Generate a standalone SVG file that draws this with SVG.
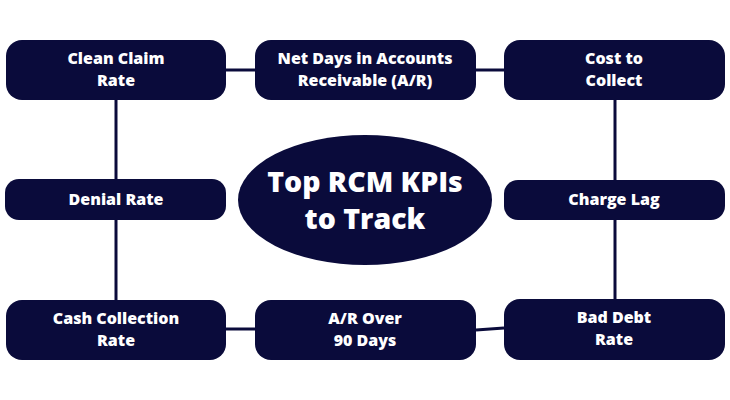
<svg xmlns="http://www.w3.org/2000/svg" width="730" height="400" viewBox="0 0 730 400">
<style>
.node{fill:#0a0b3b;}
.t{fill:#ffffff;font-family:"Open Sans","Liberation Sans",sans-serif;font-weight:800;font-size:16px;text-anchor:middle;}
.tc{fill:#ffffff;font-family:"Open Sans","Liberation Sans",sans-serif;font-weight:800;font-size:28.5px;text-anchor:middle;}
.c{stroke:#0a0b3b;stroke-width:3;fill:none;}
</style>
<rect width="730" height="400" fill="#ffffff"/>
<g id="connectors">
<line class="c" x1="226" y1="70" x2="255" y2="70"/>
<line class="c" x1="476" y1="70" x2="504" y2="70"/>
<line class="c" x1="116" y1="100" x2="116" y2="179"/>
<line class="c" x1="116" y1="220" x2="116" y2="300"/>
<line class="c" x1="615" y1="100" x2="615" y2="180"/>
<line class="c" x1="615" y1="220" x2="615" y2="299"/>
<line class="c" x1="226" y1="329" x2="255" y2="329"/>
<line class="c" x1="476" y1="330" x2="504" y2="328"/>
</g>
<g id="center">
<ellipse class="node" cx="365" cy="200" rx="127" ry="65"/>
<text class="tc" x="365" y="192">Top RCM KPIs</text>
<text class="tc" x="365" y="229">to Track</text>
</g>
<g id="clean-claim">
<rect class="node" x="6" y="40" width="220" height="60" rx="16"/>
<text class="t" x="116" y="64">Clean Claim</text>
<text class="t" x="116" y="86">Rate</text>
</g>
<g id="net-days">
<rect class="node" x="255" y="40" width="221" height="60" rx="16"/>
<text class="t" x="365" y="64">Net Days in Accounts</text>
<text class="t" x="365" y="86">Receivable (A/R)</text>
</g>
<g id="cost-collect">
<rect class="node" x="504" y="40" width="221" height="60" rx="16"/>
<text class="t" x="614" y="64">Cost to</text>
<text class="t" x="614" y="86">Collect</text>
</g>
<g id="denial">
<rect class="node" x="5" y="179" width="221" height="41" rx="14"/>
<text class="t" x="116" y="205">Denial Rate</text>
</g>
<g id="charge-lag">
<rect class="node" x="504" y="180" width="221" height="40" rx="14"/>
<text class="t" x="614" y="205">Charge Lag</text>
</g>
<g id="cash-collection">
<rect class="node" x="6" y="300" width="220" height="60" rx="16"/>
<text class="t" x="116" y="324">Cash Collection</text>
<text class="t" x="116" y="346">Rate</text>
</g>
<g id="ar-over-90">
<rect class="node" x="255" y="300" width="221" height="60" rx="16"/>
<text class="t" x="365" y="324">A/R Over</text>
<text class="t" x="365" y="346">90 Days</text>
</g>
<g id="bad-debt">
<rect class="node" x="504" y="299" width="221" height="61" rx="16"/>
<text class="t" x="614" y="323">Bad Debt</text>
<text class="t" x="614" y="345">Rate</text>
</g>
</svg>
